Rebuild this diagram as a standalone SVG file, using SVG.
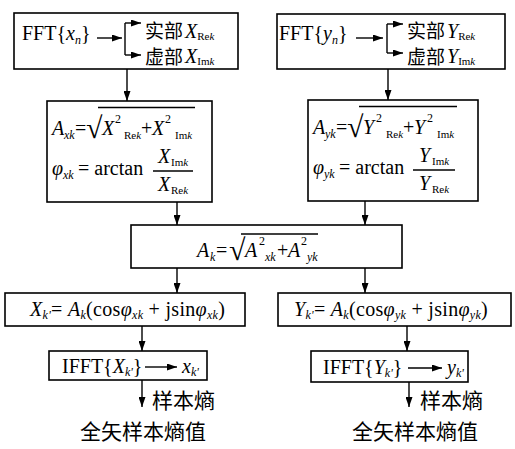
<svg xmlns="http://www.w3.org/2000/svg" width="515" height="449" viewBox="0 0 515 449">
<defs>
<marker id="ah" viewBox="0 0 10 7" refX="10" refY="3.5" markerWidth="10" markerHeight="7" orient="auto" markerUnits="userSpaceOnUse"><path d="M0,0 L10,3.5 L0,7 z" fill="#000"/></marker>
</defs>
<style>
.box{fill:#fff;stroke:#000;stroke-width:1.6}
.ln{stroke:#000;stroke-width:1.4;fill:none}
text{font-family:"Liberation Serif","Noto Sans CJK SC",serif;font-size:20px;fill:#000}
.i{font-style:italic}
.s{font-size:12px}
.t{font-size:11px}
.c{font-family:"Noto Sans CJK SC","Liberation Serif",sans-serif;font-size:19px}
.c2{font-family:"Noto Sans CJK SC",sans-serif;font-size:21px}
.rad{font-size:30px}
.w{letter-spacing:0.3px}
</style>
<rect width="515" height="449" fill="#fff"/>

<g id="fft-x">
<rect class="box" x="14" y="13" width="224" height="56"/>
<text x="22" y="40">FFT{<tspan class="i">x</tspan><tspan class="s i" dy="4">n</tspan><tspan dy="-4">}</tspan></text>
<line class="ln" x1="97" y1="38" x2="122" y2="38" marker-end="url(#ah)"/>
<path class="ln" d="M125,23 V55"/>
<line class="ln" x1="125" y1="23" x2="141" y2="23" marker-end="url(#ah)"/>
<line class="ln" x1="125" y1="55" x2="141" y2="55" marker-end="url(#ah)"/>
<text x="145" y="38" class="c">实部</text>
<text x="185" y="38"><tspan class="i">X</tspan><tspan class="t" dy="2">Re<tspan class="i">k</tspan></tspan></text>
<text x="145" y="64" class="c">虚部</text>
<text x="185" y="63"><tspan class="i">X</tspan><tspan class="t" dy="2">Im<tspan class="i">k</tspan></tspan></text>
</g>

<g id="fft-y">
<rect class="box" x="277" y="14" width="228" height="55"/>
<text x="279" y="40">FFT{<tspan class="i">y</tspan><tspan class="s i" dy="4">n</tspan><tspan dy="-4">}</tspan></text>
<line class="ln" x1="356" y1="38" x2="383" y2="38" marker-end="url(#ah)"/>
<path class="ln" d="M387,24 V53"/>
<line class="ln" x1="387" y1="24" x2="403" y2="24" marker-end="url(#ah)"/>
<line class="ln" x1="387" y1="53" x2="403" y2="53" marker-end="url(#ah)"/>
<text x="407" y="38" class="c">实部</text>
<text x="447" y="38"><tspan class="i">Y</tspan><tspan class="t" dy="2">Re<tspan class="i">k</tspan></tspan></text>
<text x="407" y="64" class="c">虚部</text>
<text x="447" y="63"><tspan class="i">Y</tspan><tspan class="t" dy="2">Im<tspan class="i">k</tspan></tspan></text>
</g>

<g id="polar-x">
<rect class="box" x="47" y="101" width="165" height="101"/>
<text x="52" y="135" class="i">A</text>
<text x="64" y="139" class="s i">xk</text>
<text x="75" y="135">=</text>
<text x="86" y="138" class="rad">√</text>
<line class="ln" x1="98" y1="107.5" x2="195" y2="107.5"/>
<text x="102" y="135" class="i">X</text>
<text x="115" y="123" class="s">2</text>
<text x="124" y="139" class="t">Re<tspan class="i">k</tspan></text>
<text x="141" y="135">+</text>
<text x="152" y="135" class="i">X</text>
<text x="165" y="123" class="s">2</text>
<text x="175" y="139" class="t">Im<tspan class="i">k</tspan></text>
<text x="52" y="175" class="i">φ</text>
<text x="63" y="179" class="s i">xk</text>
<text x="78" y="175">= arctan</text>
<line class="ln" x1="153" y1="171" x2="193" y2="171"/>
<text x="158" y="163" class="i">X</text>
<text x="171" y="166" class="t">Im<tspan class="i">k</tspan></text>
<text x="158" y="191" class="i">X</text>
<text x="171" y="194" class="t">Re<tspan class="i">k</tspan></text>
</g>

<g id="polar-y">
<rect class="box" x="308" y="100" width="170" height="101"/>
<text x="313" y="134" class="i">A</text>
<text x="325" y="138" class="s i">yk</text>
<text x="336" y="134">=</text>
<text x="347" y="137" class="rad">√</text>
<line class="ln" x1="359" y1="106.5" x2="457" y2="106.5"/>
<text x="363" y="134" class="i">Y</text>
<text x="376" y="122" class="s">2</text>
<text x="386" y="138" class="t">Re<tspan class="i">k</tspan></text>
<text x="403" y="134">+</text>
<text x="414" y="134" class="i">Y</text>
<text x="427" y="122" class="s">2</text>
<text x="437" y="138" class="t">Im<tspan class="i">k</tspan></text>
<text x="313" y="174" class="i">φ</text>
<text x="324" y="178" class="s i">yk</text>
<text x="339" y="174">= arctan</text>
<line class="ln" x1="413" y1="170" x2="455" y2="170"/>
<text x="419" y="162" class="i">Y</text>
<text x="432" y="165" class="t">Im<tspan class="i">k</tspan></text>
<text x="419" y="190" class="i">Y</text>
<text x="432" y="193" class="t">Re<tspan class="i">k</tspan></text>
</g>

<g id="amplitude">
<rect class="box" x="131" y="225" width="271" height="43"/>
<text x="197" y="257" class="i">A</text>
<text x="210" y="261" class="s i">k</text>
<text x="216" y="257">=</text>
<text x="229" y="260" class="rad">√</text>
<line class="ln" x1="241" y1="234" x2="318" y2="234"/>
<text x="245" y="257" class="i">A</text>
<text x="259" y="245" class="s">2</text>
<text x="265" y="261" class="s i">xk</text>
<text x="277" y="257">+</text>
<text x="288" y="257" class="i">A</text>
<text x="301" y="245" class="s">2</text>
<text x="307" y="261" class="s i">yk</text>
</g>

<g id="recon-x">
<rect class="box" x="5" y="293" width="240" height="33"/>
<text x="30" y="316" class="w"><tspan class="i">X</tspan><tspan class="s i" dy="3">k'</tspan><tspan dy="-3">= </tspan><tspan class="i">A</tspan><tspan class="s i" dy="3">k</tspan><tspan dy="-3">(cos</tspan><tspan class="i">φ</tspan><tspan class="s i" dy="3">xk</tspan><tspan dy="-3"> + jsin</tspan><tspan class="i">φ</tspan><tspan class="s i" dy="3">xk</tspan><tspan dy="-3">)</tspan></text>
</g>

<g id="recon-y">
<rect class="box" x="278" y="293" width="233" height="33"/>
<text x="294" y="316" class="w"><tspan class="i">Y</tspan><tspan class="s i" dy="3">k'</tspan><tspan dy="-3">= </tspan><tspan class="i">A</tspan><tspan class="s i" dy="3">k</tspan><tspan dy="-3">(cos</tspan><tspan class="i">φ</tspan><tspan class="s i" dy="3">yk</tspan><tspan dy="-3"> + jsin</tspan><tspan class="i">φ</tspan><tspan class="s i" dy="3">yk</tspan><tspan dy="-3">)</tspan></text>
</g>

<g id="ifft-x">
<rect class="box" x="49" y="351" width="158" height="29"/>
<text x="62" y="373">IFFT{<tspan class="i">X</tspan><tspan class="s i" dy="3">k'</tspan><tspan dy="-3">}</tspan></text>
<line class="ln" x1="145" y1="367" x2="177" y2="367" marker-end="url(#ah)"/>
<text x="182" y="373"><tspan class="i">x</tspan><tspan class="s i" dy="3">k'</tspan></text>
</g>

<g id="ifft-y">
<rect class="box" x="311" y="351" width="157" height="31"/>
<text x="323" y="374">IFFT{<tspan class="i">Y</tspan><tspan class="s i" dy="3">k'</tspan><tspan dy="-3">}</tspan></text>
<line class="ln" x1="408" y1="368" x2="442" y2="368" marker-end="url(#ah)"/>
<text x="447" y="374"><tspan class="i">y</tspan><tspan class="s i" dy="3">k'</tspan></text>
</g>

<g id="out-x">
<text x="152" y="408" class="c2">样本熵</text>
<text x="80" y="439" class="c2">全矢样本熵值</text>
</g>
<g id="out-y">
<text x="420" y="408" class="c2">样本熵</text>
<text x="352" y="439" class="c2">全矢样本熵值</text>
</g>

<g id="connectors">
<line class="ln" x1="127" y1="69" x2="127" y2="101" marker-end="url(#ah)"/>
<line class="ln" x1="388" y1="69" x2="388" y2="100" marker-end="url(#ah)"/>
<line class="ln" x1="177" y1="202" x2="177" y2="225" marker-end="url(#ah)"/>
<line class="ln" x1="365" y1="201" x2="365" y2="225" marker-end="url(#ah)"/>
<line class="ln" x1="177" y1="268" x2="177" y2="293" marker-end="url(#ah)"/>
<line class="ln" x1="365" y1="268" x2="365" y2="293" marker-end="url(#ah)"/>
<line class="ln" x1="142" y1="326" x2="142" y2="351" marker-end="url(#ah)"/>
<line class="ln" x1="407" y1="326" x2="407" y2="351" marker-end="url(#ah)"/>
<line class="ln" x1="142" y1="380" x2="142" y2="407" marker-end="url(#ah)"/>
<line class="ln" x1="409" y1="382" x2="409" y2="407" marker-end="url(#ah)"/>
</g>
</svg>
